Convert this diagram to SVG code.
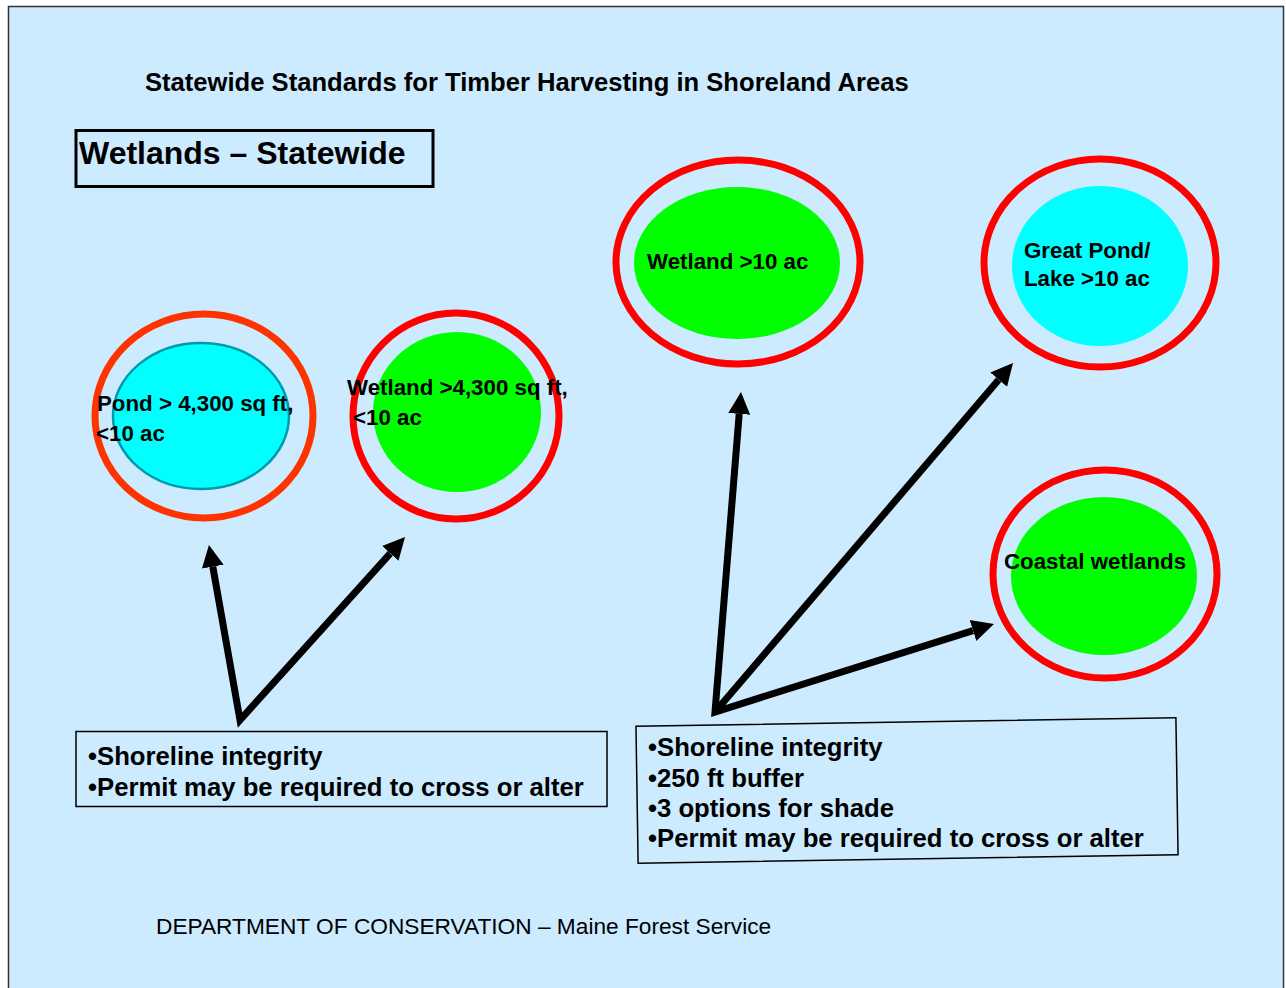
<svg xmlns="http://www.w3.org/2000/svg" width="1286" height="988" viewBox="0 0 1286 988">
<defs>
<style>
.t{font-family:"Liberation Sans",Arial,sans-serif;font-weight:bold;fill:#000}
.n{font-size:22.3px}
.b{font-size:25.7px}
.ring{fill:none;stroke-width:7}
.box{fill:none;stroke:#000;stroke-width:1.5}
.arr{fill:none;stroke:#000;stroke-width:7;stroke-linejoin:miter;stroke-miterlimit:20}
</style>
<marker id="ah" markerUnits="userSpaceOnUse" viewBox="0 -12 24 24" markerWidth="24" markerHeight="24" refX="0" refY="0" orient="auto-start-reverse">
<path d="M0,-11 L22,0 L0,11 Z" fill="#000"/>
</marker>
</defs>
<rect x="8.5" y="6.5" width="1275" height="990" fill="#CCEBFF" stroke="#333" stroke-width="1.5"/>
<text class="t" x="145" y="91" font-size="25.6">Statewide Standards for Timber Harvesting in Shoreland Areas</text>
<g id="header">
<rect x="76" y="130.5" width="357" height="56" fill="none" stroke="#000" stroke-width="3"/>
<text class="t" x="79" y="164" font-size="32">Wetlands – Statewide</text>
</g>
<g id="pond">
<ellipse class="ring" cx="204" cy="416" rx="109" ry="102" stroke="#FF3300"/>
<ellipse cx="201" cy="416" rx="88" ry="73" fill="#00FFFF" stroke="#0099B0" stroke-width="2.5"/>
<text class="t n"><tspan x="97" y="411">Pond &gt; 4,300 sq ft,</tspan><tspan x="96" y="441">&lt;10 ac</tspan></text>
</g>
<g id="wetland-small">
<ellipse class="ring" cx="456" cy="416" rx="103" ry="103" stroke="#FF0000"/>
<ellipse cx="457" cy="412" rx="84" ry="80" fill="#00FF00"/>
<text class="t n"><tspan x="347" y="395">Wetland &gt;4,300 sq ft,</tspan><tspan x="353" y="425">&lt;10 ac</tspan></text>
</g>
<g id="wetland-large">
<ellipse class="ring" cx="738" cy="262" rx="122" ry="102" stroke="#FF0000"/>
<ellipse cx="737" cy="263" rx="103" ry="76" fill="#00FF00"/>
<text class="t n" x="647" y="269">Wetland &gt;10 ac</text>
</g>
<g id="great-pond">
<ellipse class="ring" cx="1100" cy="263" rx="116" ry="104" stroke="#FF0000"/>
<ellipse cx="1100" cy="266" rx="88" ry="80" fill="#00FFFF"/>
<text class="t n"><tspan x="1024" y="258">Great Pond/</tspan><tspan x="1024" y="286">Lake &gt;10 ac</tspan></text>
</g>
<g id="coastal">
<ellipse class="ring" cx="1105" cy="574" rx="112" ry="104" stroke="#FF0000"/>
<ellipse cx="1104" cy="576" rx="93" ry="79" fill="#00FF00"/>
<text class="t n" x="1004" y="569">Coastal wetlands</text>
</g>
<g id="connectors">
<path class="arr" d="M212.8,566.7 L240,720 L390.3,553.3" marker-start="url(#ah)" marker-end="url(#ah)"/>
<path class="arr" d="M739.2,413.9 L715,712 L973,630.6" marker-start="url(#ah)" marker-end="url(#ah)"/>
<path class="arr" d="M715,712 L998.7,379.7" marker-end="url(#ah)"/>
</g>
<g id="box-left">
<rect class="box" x="76" y="731.5" width="531" height="75"/>
<text class="t b"><tspan x="88" y="765">•Shoreline integrity</tspan><tspan x="88" y="796">•Permit may be required to cross or alter</tspan></text>
</g>
<g id="box-right">
<rect class="box" x="637" y="722" width="540" height="137" transform="rotate(-0.9 907 790)"/>
<text class="t b"><tspan x="648" y="756">•Shoreline integrity</tspan><tspan x="648" y="787">•250 ft buffer</tspan><tspan x="648" y="817">•3 options for shade</tspan><tspan x="648" y="846.5">•Permit may be required to cross or alter</tspan></text>
</g>
<text x="156" y="934" font-size="22.7" font-family="Liberation Sans,Arial,sans-serif" fill="#000">DEPARTMENT OF CONSERVATION – Maine Forest Service</text>
</svg>
